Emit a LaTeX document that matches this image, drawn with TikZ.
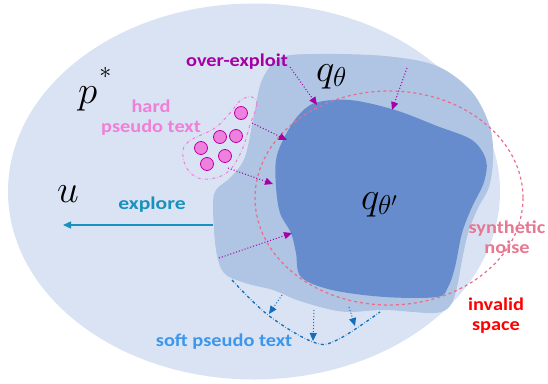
\RequirePackage{fix-cm}
\documentclass[tikz,border=0pt]{standalone}
\usepackage{fontspec}
\setmainfont{Carlito}
\usepackage{graphicx}
\usetikzlibrary{arrows.meta}
\definecolor{bgblue}{RGB}{218,227,243}
\definecolor{midblue}{RGB}{176,196,228}
\definecolor{darkblue}{RGB}{102,140,206}
\definecolor{noisered}{RGB}{232,110,138}
\definecolor{hardpink}{RGB}{240,128,215}
\definecolor{dotfill}{RGB}{238,128,222}
\definecolor{dotline}{RGB}{190,0,170}
\definecolor{exploitc}{RGB}{165,0,165}
\definecolor{explorec}{RGB}{25,145,190}
\definecolor{softblue}{RGB}{20,110,190}
\definecolor{softtext}{RGB}{60,150,235}
\definecolor{noisetext}{RGB}{230,120,145}
\newcommand{\wide}[1]{\scalebox{1.13}[1]{#1}}
\newcommand{\twolines}[2]{\wide{\begin{tabular}[t]{@{}c@{}}#1\\#2\end{tabular}}}
\tikzset{
  dotc/.style={circle, draw=dotline, fill=dotfill, line width=0.8pt, minimum size=13pt, inner sep=0pt},
  tip/.style={-{Triangle[length=8pt,width=7pt]}},
  exploitarrow/.style={exploitc, dotted, line width=1pt, tip},
  softarrow/.style={softblue, dotted, line width=1pt, tip},
  lbl/.style={font=\bfseries\fontsize{18}{20}\selectfont, inner sep=0pt, anchor=base},
  mathlbl/.style={font=\fontsize{39}{39}\selectfont, inner sep=0pt}
}
\begin{document}
\begin{tikzpicture}[x=1pt,y=-1pt]
\useasboundingbox (0,0) rectangle (548,383);
\fill[bgblue] (254,191.5) ellipse [x radius=246, y radius=188];
\fill[midblue] plot[smooth cycle, tension=0.55] coordinates {(280,58) (315,54) (385,56) (437,66) (472,92) (490,127) (493,160) (489,187) (478,208) (469,230) (463,255) (457,287) (450,306) (434,313) (385,310) (350,312) (328,309) (297,300) (273,290) (245,283) (224,273) (216,250) (213,207) (216,190) (231,177) (245,157) (254,115) (262,80)};
\fill[darkblue] plot[smooth cycle, tension=0.55] coordinates {(315,103) (350,100) (395,110) (437,126) (472,140) (486,160) (484,182) (472,207) (462,233) (455,267) (448,287) (437,297) (385,297) (332,290) (301,277) (296,253) (291,233) (280,213) (276,187) (276,160) (283,140) (297,117)};
\draw[noisered, dashed, line width=1.2pt] (389,198) ellipse [x radius=134, y radius=107];
\draw[hardpink, dash dot, line width=1pt] plot[smooth cycle, tension=0.6] coordinates {(252,97) (257,104) (250,125) (242,150) (230,170) (215,178) (198,178) (186,167) (183,150) (191,140) (215,128) (230,113) (241,100)};
\node[dotc] (c1) at (241,113) {};
\node[dotc] (c2) at (220,137) {};
\node[dotc] (c3) at (236,136) {};
\node[dotc] (c4) at (201,148) {};
\node[dotc] (c5) at (225,156) {};
\node[dotc] (c6) at (207,164) {};
% soft pseudo text curve
\draw[softblue, dash dot, line width=1.3pt] plot[smooth, tension=0.6] coordinates {(232,280) (268,315) (313,342) (337,340) (380,312)};
% coordinates for arrows
\coordinate (e1s) at (290,67); \coordinate (e1e) at (317,105);
\coordinate (e2s) at (407,68); \coordinate (e2e) at (392,110);
\coordinate (e3s) at (252,123); \coordinate (e3e) at (287,140);
\coordinate (e4s) at (228,168); \coordinate (e4e) at (273,184);
\coordinate (e5s) at (219,258); \coordinate (e5e) at (292,233);
\coordinate (s1s) at (282,295); \coordinate (s1e) at (269,314);
\coordinate (s2s) at (314,310); \coordinate (s2e) at (313,341);
\coordinate (s3s) at (349,307); \coordinate (s3e) at (355,326);
\coordinate (xs) at (213,225); \coordinate (xe) at (63,225);
\draw[exploitarrow] (e1s) -- (e1e);
\draw[exploitarrow] (e2s) -- (e2e);
\draw[exploitarrow] (e3s) -- (e3e);
\draw[exploitarrow] (e4s) -- (e4e);
\draw[exploitarrow] (e5s) -- (e5e);
\draw[softarrow] (s1s) -- (s1e);
\draw[softarrow] (s2s) -- (s2e);
\draw[softarrow] (s3s) -- (s3e);
\draw[explorec, line width=1.3pt, tip] (xs) -- (xe);
% labels
\node[mathlbl, anchor=base west] (p) at (78,103) {$p$\hspace{2pt}\raisebox{25pt}{\fontsize{24}{24}\selectfont$*$}};
\node[mathlbl, anchor=base] (u) at (68,202) {$u$};
\node[mathlbl, anchor=base west] (q1) at (316,81) {$q_\theta$};
\node[mathlbl, anchor=base west] (q2) at (361,209) {$q_{\theta'}$};
\node[lbl, text=exploitc] (oe) at (237,66) {\wide{over-exploit}};
\node[lbl, text=hardpink] (hp) at (151,112) {\twolines{hard}{pseudo text}};
\node[lbl, text=explorec] (ex) at (152,209) {\scalebox{1.2}[1]{explore}};
\node[lbl, text=noisetext] (sn) at (507,233) {\twolines{synthetic}{noise}};
\node[lbl, text=red] (is) at (496,310) {\twolines{invalid}{space}};
\node[lbl, text=softtext] (sp) at (224,346) {\wide{soft pseudo text}};
\end{tikzpicture}
\end{document}
